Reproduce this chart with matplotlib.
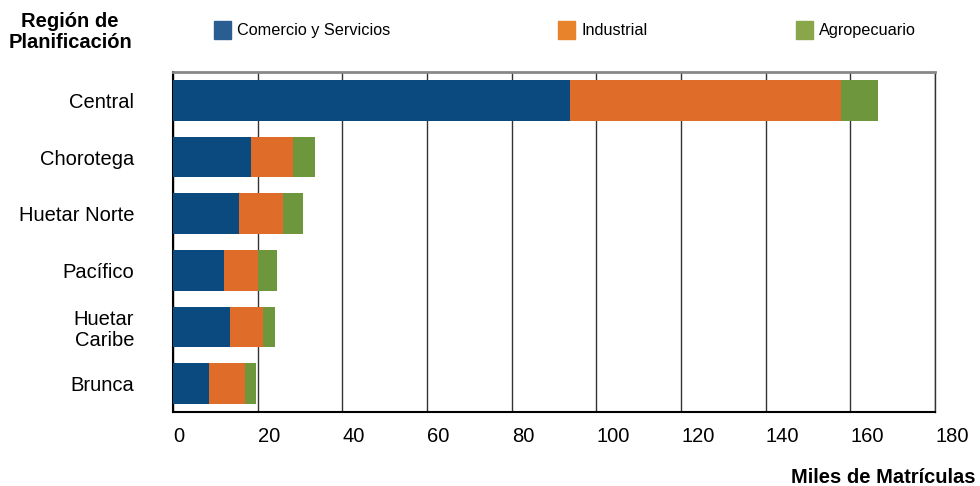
import numpy as np
import matplotlib.pyplot as plt
from matplotlib.patches import Rectangle

plt.rcParams['font.family'] = ['Liberation Sans', 'DejaVu Sans']

regiones = ["Central", "Chorotega", "Huetar Norte", "Pacífico", "Huetar\nCaribe", "Brunca"]
comercio = [93.8, 18.4, 15.6, 12.0, 13.5, 8.5]
industrial = [64.0, 9.9, 10.4, 8.0, 7.8, 8.5]
agro = [8.7, 5.2, 4.7, 4.6, 2.8, 2.6]
series_names = ["Comercio y Servicios", "Industrial", "Agropecuario"]
bar_colors = ["#0b4a7e", "#e06c29", "#6e963c"]
legend_colors = ["#2a5e93", "#e8822b", "#8aa64b"]
xticks = [0, 20, 40, 60, 80, 100, 120, 140, 160, 180]

fig = plt.figure(figsize=(9.8, 4.86), dpi=100)
ax = fig.add_axes([173/980, 1-412/486, (935-173)/980, (412-72)/486])

y = np.arange(len(regiones))
left = np.zeros(len(regiones))
for vals, col in zip([comercio, industrial, agro], bar_colors):
    ax.barh(y, vals, left=left, height=0.72, color=col, zorder=3)
    left += np.array(vals)

ax.set_ylim(len(regiones) - 0.5, -0.5)
ax.set_xlim(0, 180)
ax.set_xticks(xticks)
ax.set_xticklabels([str(t) for t in xticks], ha='left', fontsize=14.5)
ax.set_yticks(y)
ax.set_yticklabels(regiones, fontsize=14.5, multialignment='right', linespacing=1.1)
ax.tick_params(axis='y', length=0, pad=28)
ax.tick_params(axis='x', length=0, pad=11)
ax.grid(axis='x', color='#333333', linewidth=1.0, zorder=0)

ax.spines['top'].set_color('#888888')
ax.spines['top'].set_linewidth(2)
ax.spines['right'].set_color('#333333')
ax.spines['right'].set_linewidth(1.0)
ax.spines['left'].set_color('black')
ax.spines['left'].set_linewidth(1.5)
ax.spines['bottom'].set_color('black')
ax.spines['bottom'].set_linewidth(1.5)

# encabezado y leyenda
fig.text(70/980, 1-32/486, "Región de\nPlanificación", ha='center', va='center',
         fontsize=14.5, fontweight='bold', linespacing=1.1)
leg_x = [214, 558, 796]
for name, col, lx in zip(series_names, legend_colors, leg_x):
    fig.patches.append(Rectangle((lx/980, 1-39/486), 17/980, 18/486,
                                 transform=fig.transFigure, color=col))
    fig.text((lx+23)/980, 1-30/486, name, ha='left', va='center', fontsize=11.7)

fig.text(975/980, 1-477/486, "Miles de Matrículas", ha='right', va='center',
         fontsize=14.5, fontweight='bold')

fig.savefig("out.png", dpi=100)
